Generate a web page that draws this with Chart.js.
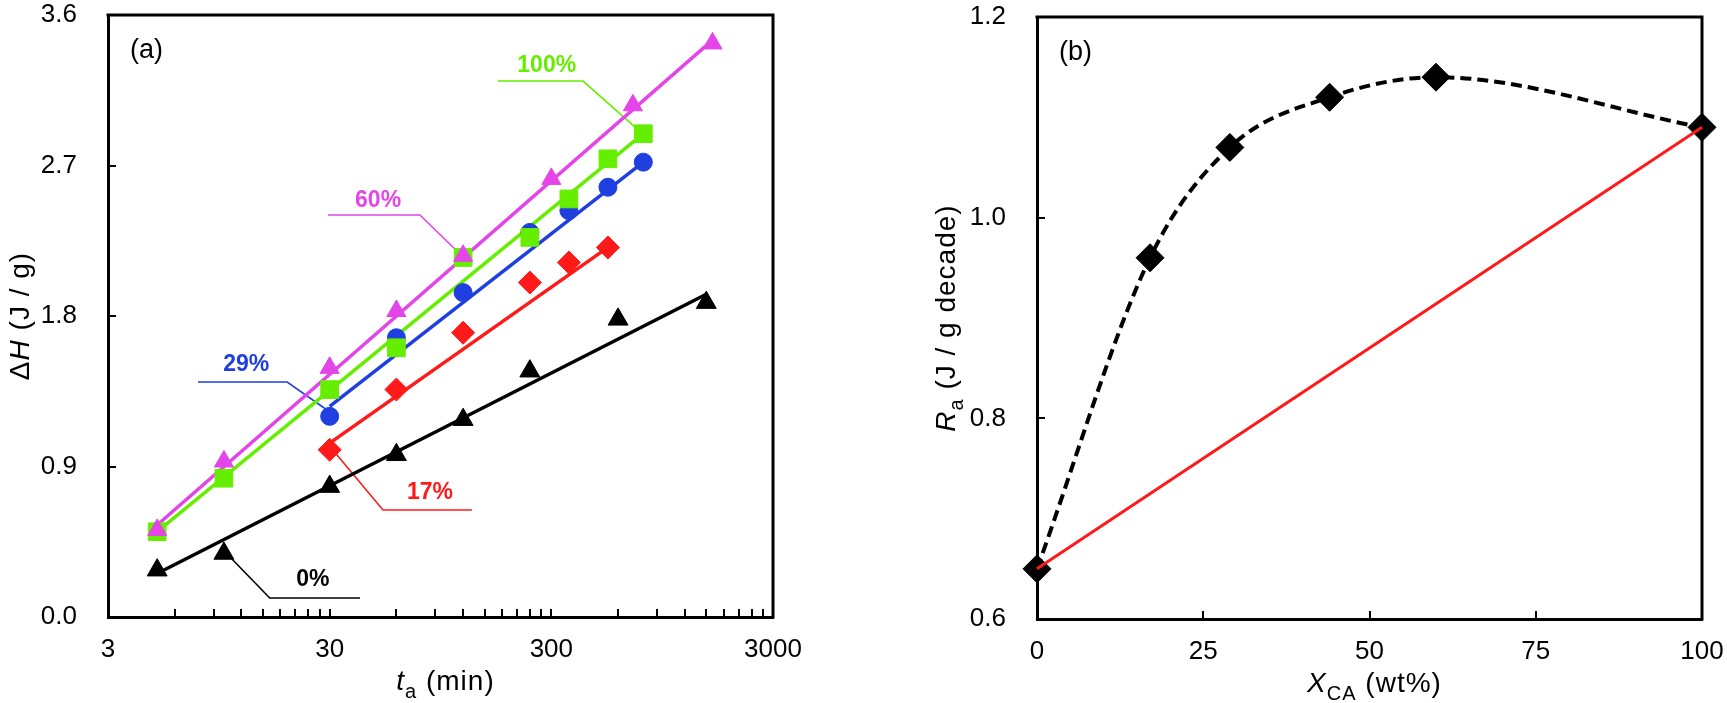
<!DOCTYPE html>
<html>
<head>
<meta charset="utf-8">
<script src="https://cdn.jsdelivr.net/npm/chart.js@4.4.0/dist/chart.umd.min.js"></script>
<style>
  body { margin: 0; background: #fff; }
  canvas { position: absolute; top: 0; }
</style>
</head>
<body>
<canvas id="chartA" width="860" height="703" style="left:0"></canvas>
<canvas id="chartB" width="847" height="703" style="left:880px"></canvas>
<script>
// ---- panel (a): heat of ageing vs ageing time ----
const t0 = [5, 10, 30, 60, 120, 240, 600, 1500];
const h0 = [0.28, 0.38, 0.78, 0.97, 1.18, 1.47, 1.78, 1.88];
const t17 = [30, 60, 120, 240, 360, 540];
const h17 = [1.00, 1.36, 1.70, 2.00, 2.12, 2.21];
const t29 = [30, 60, 120, 240, 360, 540, 780];
const h29 = [1.20, 1.67, 1.94, 2.30, 2.43, 2.57, 2.72];
const t60 = [5, 10, 30, 60, 120, 300, 700, 1600];
const h60 = [0.52, 0.93, 1.49, 1.83, 2.16, 2.62, 3.06, 3.43];
const t100 = [5, 10, 30, 60, 120, 240, 360, 540, 780];
const h100 = [0.51, 0.83, 1.36, 1.61, 2.15, 2.27, 2.50, 2.74, 2.89];

// fitted lines (end points)
const fitT0 = [5, 1500], fitH0 = [0.26, 1.93];
const fitT17 = [30, 540], fitH17 = [1.04, 2.21];
const fitT29 = [30, 780], fitH29 = [1.26, 2.72];
const fitT60 = [5, 1600], fitH60 = [0.55, 3.45];
const fitT100 = [5, 780], fitH100 = [0.51, 2.89];

const xMajorA = [3, 30, 300, 3000];
const xMinorMult = [2, 3, 4, 5, 6, 7, 8, 9];
const yTicksA = [0, 0.9, 1.8, 2.7, 3.6];

// call-out labels (data coords)
const noteText = ['100%', '60%', '29%', '17%', '0%'];
const noteAt = [[286, 3.30], [49.6, 2.49], [12.6, 1.51], [85, 0.742], [25.2, 0.221]];
const notePath = [
    [[172, 3.205], [417, 3.205], [769, 2.894]],
    [[29.5, 2.404], [76.6, 2.404], [120, 2.153]],
    [[7.64, 1.405], [19.3, 1.405], [29.2, 1.238]],
    [[31.0, 0.999], [52.2, 0.640], [131.5, 0.640]],
    [[10.65, 0.359], [16.1, 0.114], [41.1, 0.114]]
];

// ---- panel (b): ageing rate vs CA content ----
const xCA = [0, 17, 29, 44, 60, 100];
const rateA = [0.65, 0.96, 1.07, 1.12, 1.14, 1.09];
const mixX = [0, 100];
const mixRate = [0.65, 1.09];
const xTicksB = [0, 25, 50, 75, 100];
const yTicksB = [0.6, 0.8, 1.0, 1.2];

const FONT = '"Liberation Sans", Arial, Helvetica, sans-serif';
const MAGENTA = '#E445E8', GREEN = '#66EE00', BLUE = '#1F3FE0', RED = '#FF1A1A', BLACK = '#000000';
const noteColor = [GREEN, MAGENTA, BLUE, RED, BLACK];

function pts(xs, ys) {
    return xs.map((x, i) => ({ x: x, y: ys[i] }));
}

function markers(xs, ys, color, style, radius, order) {
    return {
        data: pts(xs, ys), showLine: false, pointStyle: style, pointRadius: radius,
        pointBackgroundColor: color, pointBorderColor: color, pointBorderWidth: 1,
        clip: false, order: order
    };
}

function fitLine(xs, ys, color, order) {
    return {
        data: pts(xs, ys), showLine: true, pointRadius: 0, borderColor: color,
        borderWidth: 3.5, clip: false, order: order
    };
}

// draw text with italic / subscript parts, centred on (cx, cy)
function drawRich(ctx, parts, cx, cy, size, rotate) {
    ctx.save();
    ctx.translate(cx, cy);
    if (rotate) ctx.rotate(-Math.PI / 2);
    ctx.fillStyle = '#000';
    ctx.textAlign = 'left';
    ctx.textBaseline = 'alphabetic';
    ctx.letterSpacing = '1px';
    const fontOf = s => (s.includes('i') ? 'italic ' : '') +
        (s.includes('s') ? Math.round(size * 0.72) : size) + 'px ' + FONT;
    let w = 0;
    parts.forEach(p => { ctx.font = fontOf(p[1]); w += ctx.measureText(p[0]).width; });
    let x = -w / 2;
    parts.forEach(p => {
        ctx.font = fontOf(p[1]);
        ctx.fillText(p[0], x, size * 0.36 + (p[1].includes('s') ? size * 0.3 : 0));
        x += ctx.measureText(p[0]).width;
    });
    ctx.restore();
}

// box, inward tick marks, axis titles and panel letter
function decor(xTitle, yTitle, yTitleGap, panel) {
    return {
        id: 'decor',
        beforeDatasetsDraw(chart) {
            const ctx = chart.ctx, a = chart.chartArea;
            const sx = chart.scales.x, sy = chart.scales.y;
            ctx.save();
            ctx.strokeStyle = '#000';
            ctx.lineWidth = 2;
            ctx.beginPath();
            sx.ticks.forEach(t => {
                const px = Math.round(sx.getPixelForValue(t.value));
                ctx.moveTo(px, a.bottom);
                ctx.lineTo(px, a.bottom - 8);
            });
            sy.ticks.forEach(t => {
                const py = Math.round(sy.getPixelForValue(t.value));
                ctx.moveTo(a.left, py);
                ctx.lineTo(a.left + 8, py);
            });
            ctx.stroke();
            ctx.lineWidth = 3;
            ctx.lineCap = 'square';
            ctx.beginPath();
            ctx.moveTo(a.left, a.top);
            ctx.lineTo(a.right, a.top);
            ctx.lineTo(a.right, a.bottom);
            ctx.stroke();
            ctx.restore();
            drawRich(ctx, xTitle, (a.left + a.right) / 2 + 5, a.bottom + 63, 28, false);
            drawRich(ctx, yTitle, a.left - yTitleGap, (a.top + a.bottom) / 2, 28, true);
            ctx.save();
            ctx.font = '27px ' + FONT;
            ctx.fillStyle = '#000';
            ctx.textBaseline = 'middle';
            ctx.fillText(panel, a.left + 22, a.top + 36);
            ctx.restore();
        }
    };
}

const notes = {
    id: 'notes',
    beforeDatasetsDraw(chart) {
        const ctx = chart.ctx, sx = chart.scales.x, sy = chart.scales.y;
        ctx.save();
        notePath.forEach((path, i) => {
            ctx.strokeStyle = noteColor[i];
            ctx.lineWidth = 1.6;
            ctx.beginPath();
            path.forEach((p, j) => {
                const px = sx.getPixelForValue(p[0]), py = sy.getPixelForValue(p[1]);
                if (j === 0) ctx.moveTo(px, py); else ctx.lineTo(px, py);
            });
            ctx.stroke();
            ctx.fillStyle = noteColor[i];
            ctx.font = 'bold 23px ' + FONT;
            ctx.textAlign = 'center';
            ctx.textBaseline = 'middle';
            ctx.fillText(noteText[i], sx.getPixelForValue(noteAt[i][0]), sy.getPixelForValue(noteAt[i][1]));
        });
        ctx.restore();
    }
};

function axis(extra) {
    return Object.assign({
        grid: { drawOnChartArea: false, drawTicks: false },
        border: { display: true, color: '#000', width: 3 }
    }, extra);
}

const tickFont = { family: FONT, size: 26 };

function fixX(height) {
    return s => { s.height = height; s.paddingLeft = 0; s.paddingRight = 0; };
}
function fixY(width) {
    return s => { s.width = width; s.paddingTop = 0; s.paddingBottom = 0; };
}

new Chart(document.getElementById('chartA'), {
    type: 'scatter',
    data: {
        datasets: [
            markers(t60, h60, MAGENTA, 'triangle', 11, 1),
            markers(t100, h100, GREEN, 'rect', 12.5, 2),
            markers(t29, h29, BLUE, 'circle', 9, 3),
            markers(t17, h17, RED, 'rectRot', 11.5, 4),
            markers(t0, h0, BLACK, 'triangle', 11.5, 5),
            fitLine(fitT60, fitH60, MAGENTA, 10),
            fitLine(fitT100, fitH100, GREEN, 11),
            fitLine(fitT29, fitH29, BLUE, 12),
            fitLine(fitT17, fitH17, RED, 13),
            fitLine(fitT0, fitH0, BLACK, 14)
        ]
    },
    options: {
        responsive: false,
        animation: false,
        events: [],
        layout: { padding: { top: 15, right: 87, left: 0, bottom: 0 } },
        plugins: { legend: { display: false }, tooltip: { enabled: false } },
        scales: {
            x: axis({
                type: 'logarithmic', min: 3, max: 3000,
                afterBuildTicks: s => {
                    const v = [];
                    xMajorA.forEach((m, i) => {
                        v.push(m);
                        if (i < xMajorA.length - 1) xMinorMult.forEach(k => v.push(m * k));
                    });
                    s.ticks = v.map(value => ({ value: value }));
                },
                afterFit: fixX(86),
                ticks: {
                    autoSkip: false, maxRotation: 0, minRotation: 0, padding: 17,
                    color: '#000', font: tickFont,
                    callback: v => xMajorA.includes(v) ? String(v) : ''
                }
            }),
            y: axis({
                min: 0, max: 3.6,
                afterBuildTicks: s => { s.ticks = yTicksA.map(value => ({ value: value })); },
                afterFit: fixY(108),
                ticks: { padding: 31, color: '#000', font: tickFont, callback: v => v.toFixed(1) }
            })
        }
    },
    plugins: [
        decor([['t', 'i'], ['a', 's'], [' (min)', '']], [['\u0394', ''], ['H', 'i'], [' (J / g)', '']], 89, '(a)'),
        notes
    ]
});

new Chart(document.getElementById('chartB'), {
    type: 'scatter',
    data: {
        datasets: [
            {
                data: pts(mixX, mixRate), showLine: true, pointRadius: 0,
                borderColor: RED, borderWidth: 3, clip: false, order: 1
            },
            {
                data: pts(xCA, rateA), showLine: true, cubicInterpolationMode: 'monotone',
                borderColor: '#000', borderWidth: 4, borderDash: [11, 6],
                pointStyle: 'rectRot', pointRadius: 14,
                pointBackgroundColor: '#000', pointBorderColor: '#000', pointBorderWidth: 1,
                clip: false, order: 2
            }
        ]
    },
    options: {
        responsive: false,
        animation: false,
        events: [],
        layout: { padding: { top: 17, right: 25, left: 0, bottom: 0 } },
        plugins: { legend: { display: false }, tooltip: { enabled: false } },
        scales: {
            x: axis({
                type: 'linear', min: 0, max: 100,
                afterBuildTicks: s => { s.ticks = xTicksB.map(value => ({ value: value })); },
                afterFit: fixX(84),
                ticks: { maxRotation: 0, padding: 17, color: '#000', font: tickFont, callback: v => String(v) }
            }),
            y: axis({
                min: 0.6, max: 1.2,
                afterBuildTicks: s => { s.ticks = yTicksB.map(value => ({ value: value })); },
                afterFit: fixY(157),
                ticks: { padding: 31, color: '#000', font: tickFont, callback: v => v.toFixed(1) }
            })
        }
    },
    plugins: [
        decor([['X', 'i'], ['CA', 's'], [' (wt%)', '']], [['R', 'i'], ['a', 's'], [' (J / g decade)', '']], 92, '(b)')
    ]
});
</script>
</body>
</html>
